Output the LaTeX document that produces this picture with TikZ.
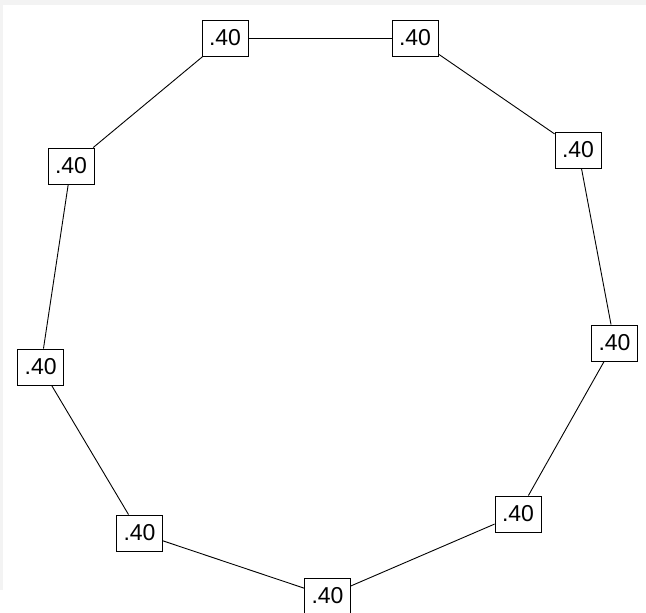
\documentclass[tikz,border=0pt]{standalone}
\usepackage{fontspec}
\setmainfont{Liberation Sans}
\definecolor{strip}{HTML}{F3F3F3}
\begin{document}
\begin{tikzpicture}[x=1pt,y=-1pt,
  valbox/.style={draw=black, line width=0.9pt, fill=white, minimum width=46pt, minimum height=36pt, inner sep=0pt, font=\fontsize{23}{23}\selectfont},
  link/.style={draw=black, line width=0.9pt}]
\useasboundingbox (0,0) rectangle (646,613);
\fill[white] (0,0) rectangle (646,613);
\fill[strip] (0,0) rectangle (646,4.5);
\fill[strip] (0,0) rectangle (3,590);
\node[valbox] (n1) at (225,38) {.40};
\node[valbox] (n2) at (415,38) {.40};
\node[valbox] (n3) at (578,150) {.40};
\node[valbox] (n4) at (614.5,343) {.40};
\node[valbox] (n5) at (518,514) {.40};
\node[valbox] (n6) at (327.5,596) {.40};
\node[valbox] (n7) at (139.5,533) {.40};
\node[valbox] (n8) at (40.7,367) {.40};
\node[valbox] (n9) at (71,166) {.40};
\draw[link] (n1) -- (n2);
\draw[link] (n2) -- (n3);
\draw[link] (n3) -- (n4);
\draw[link] (n4) -- (n5);
\draw[link] (n5) -- (n6);
\draw[link] (n6) -- (n7);
\draw[link] (n7) -- (n8);
\draw[link] (n8) -- (n9);
\draw[link] (n9) -- (n1);
\end{tikzpicture}
\end{document}
